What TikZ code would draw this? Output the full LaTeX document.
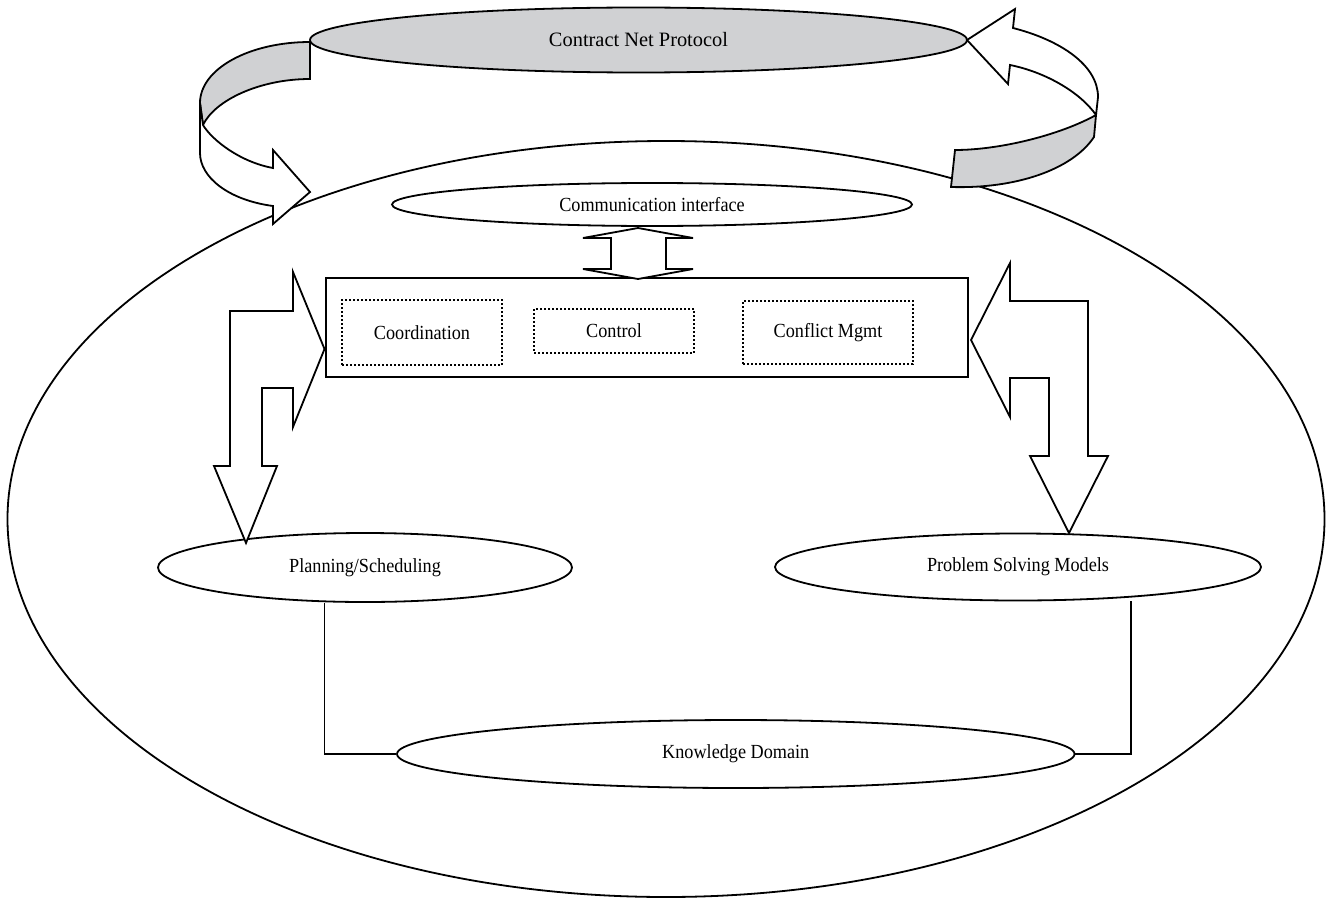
\documentclass[tikz,border=0pt]{standalone}
\usepackage{fontspec}
\setmainfont{Liberation Serif}[FakeStretch=0.91]
\newfontfamily\titlefont{Liberation Serif}
\usetikzlibrary{shapes.geometric}
\definecolor{ribbon}{RGB}{208,209,211}
\begin{document}
\begin{tikzpicture}[x=0.5pt,y=-0.5pt,
  line width=0.9pt, line join=miter,
  oval/.style={draw, ellipse, inner sep=0pt, fill=white},
  lbl/.style={font=\fontsize{10}{12}\selectfont},
  subbox/.style={draw, dash pattern=on 1pt off 1pt, line width=1pt, inner sep=0pt, lbl},
  blockarrow/.style={draw, fill=white},
  band/.style={draw, fill=ribbon}]
\useasboundingbox (0,0) rectangle (1332,904);

% agent boundary
\node[draw, ellipse, inner sep=0pt, minimum width=658.5pt, minimum height=378pt] (agent) at (666,519) {};

% protocol layer
\node[oval, fill=ribbon, minimum width=328.5pt, minimum height=32.5pt,
      font=\titlefont\fontsize{10.2}{12}\selectfont] (cnp) at (638.5,40) {Contract Net Protocol};

% left ribbon arrow: shaded back face, then front face with head
\draw[band] (310,42) .. controls (249,42) and (200,69) .. (200,103)
  -- (203,125) .. controls (215,100) and (260,79) .. (310,79) -- cycle;
\draw[blockarrow] (200,103) -- (200,153) .. controls (200,177) and (228,200) .. (273,206)
  -- (273,224) -- (310,192) -- (273,150) -- (273,168)
  .. controls (240,162) and (212,140) .. (203,125) -- cycle;

% right ribbon arrow: front face with head, then shaded back face
\draw[blockarrow] (967,40) -- (1015,9) -- (1013,28) .. controls (1060,40) and (1098,65) .. (1098,97)
  -- (1096,115) .. controls (1080,92) and (1045,72) .. (1010,65) -- (1008,84) -- cycle;
\draw[band] (1096,115) .. controls (1060,135) and (1000,150) .. (955,150)
  -- (951,187) .. controls (1015,189) and (1072,170) .. (1094,137) -- cycle;

% communication interface
\node[oval, lbl, minimum width=260pt, minimum height=21.5pt] (comm) at (652,204.5) {Communication interface};

% control core
\node[draw, inner sep=0pt, minimum width=321pt, minimum height=49.5pt] (core) at (647,327.5) {};
\node[subbox, minimum width=80pt, minimum height=32.5pt] (coord) at (422,332.5) {Coordination};
\node[subbox, minimum width=80pt, minimum height=22pt] (ctrl) at (614,331) {Control};
\node[subbox, minimum width=85pt, minimum height=31.5pt] (confl) at (828,332.5) {Conflict Mgmt};

% two-way arrow between interface and core
\draw[blockarrow] (638,228) -- (693,238) -- (666,238) -- (666,269) -- (693,269) -- (638,279)
  -- (583,269) -- (611,269) -- (611,238) -- (583,238) -- cycle;

% lower modules
\node[oval, lbl, minimum width=207pt, minimum height=34.5pt] (plan) at (365,567.5) {Planning/Scheduling};
\node[oval, lbl, minimum width=243pt, minimum height=33.5pt] (prob) at (1018,567) {Problem Solving Models};
\node[oval, lbl, minimum width=338.75pt, minimum height=34pt] (know) at (735.75,754) {Knowledge Domain};

% bent two-way arrows core <-> modules
\draw[blockarrow] (230,311) -- (293,311) -- (293,272) -- (324.5,349) -- (293,427) -- (293,388)
  -- (262,388) -- (262,466) -- (277,466) -- (246,543) -- (214,466) -- (230,466) -- cycle;
\draw[blockarrow] (971,340) -- (1010,263) -- (1010,301) -- (1088,301) -- (1088,456) -- (1108,456)
  -- (1069,533) -- (1030,456) -- (1049,456) -- (1049,378) -- (1010,378) -- (1010,417) -- cycle;

% links to the knowledge domain
\coordinate (plx) at (324.5,0);
\coordinate (prx) at (1131,0);
\draw (plan.south -| plx) |- (know.west);
\draw (prob.south -| prx) |- (know.east);
\end{tikzpicture}
\end{document}
